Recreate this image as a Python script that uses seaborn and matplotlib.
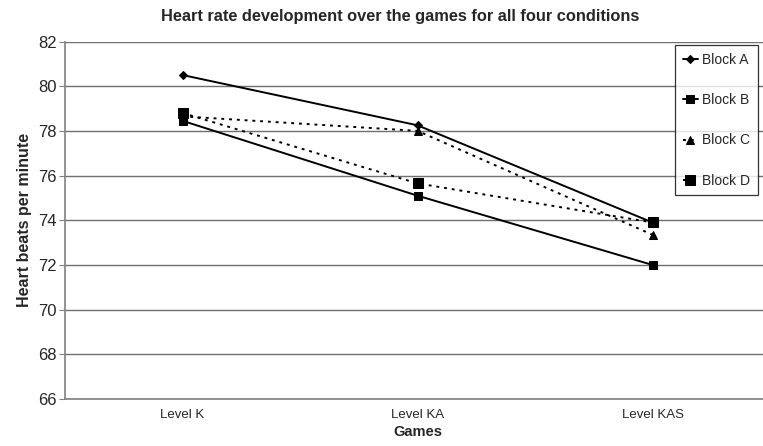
import pandas as pd
import matplotlib
matplotlib.use("Agg")
import matplotlib.pyplot as plt
import seaborn as sns

# values
games = ["Level K", "Level KA", "Level KAS"]
block_a = [80.5, 78.25, 73.9]
block_b = [78.45, 75.1, 72.0]
block_c = [78.65, 78.0, 73.35]
block_d = [78.8, 75.65, 73.9]
blocks = ["Block A", "Block B", "Block C", "Block D"]
y_ticks = list(range(66, 83, 2))

rows = []
for name, vals in zip(blocks, [block_a, block_b, block_c, block_d]):
    for g, v in zip(games, vals):
        rows.append({"Games": g, "bpm": v, "block": name})
df = pd.DataFrame(rows)

sns.set_style("white")
plt.rcParams["font.family"] = ["Liberation Sans", "DejaVu Sans"]

fig = plt.figure(figsize=(7.63, 4.46), dpi=100)
ax = fig.add_axes([65 / 763, 47 / 446, 705 / 763, 357.5 / 446])

markers = {"Block A": "D", "Block B": "s", "Block C": "^", "Block D": "s"}
dashes = {"Block A": "", "Block B": "", "Block C": (1.5, 2.5), "Block D": (1.5, 2.5)}
palette = {b: "black" for b in blocks}

sns.lineplot(data=df, x="Games", y="bpm", hue="block", style="block",
             markers=markers, dashes=dashes, palette=palette, sort=False,
             linewidth=1.4, markeredgecolor="black", ax=ax)

msizes = [4.5, 5.5, 5.5, 7.5]
for line, ms in zip(ax.lines[:4], msizes):
    line.set_markersize(ms)

ax.set_xlim(-0.5, 2.5)
ax.set_ylim(66, 82)
ax.set_yticks(y_ticks)
ax.yaxis.grid(True, color="#707070", linewidth=1.0)
ax.set_axisbelow(True)

ax.set_xticks([0, 1, 2])
ax.set_xticklabels(games, fontsize=9.5)
ax.tick_params(axis="x", length=0, pad=7)
ax.set_xticks([0.5, 1.5], minor=True)
ax.tick_params(axis="x", which="minor", direction="in", length=4, color="#808080")
ax.tick_params(axis="y", direction="out", length=4, color="#808080", labelsize=12, pad=2, left=True)

for side in ["left", "bottom"]:
    ax.spines[side].set_color("#808080")
    ax.spines[side].set_linewidth(1.2)
ax.spines["top"].set_visible(False)
ax.spines["right"].set_visible(False)

ax.set_xlabel("Games", fontsize=10.5, fontweight="bold", labelpad=3)
ax.set_ylabel("Heart beats per minute", fontsize=11.5, fontweight="bold", labelpad=4)
fig.text(400 / 763, 1 - 17 / 446, "Heart rate development over the games for all four conditions",
         ha="center", va="center", fontsize=11.8, fontweight="bold")

handles, labels = ax.get_legend_handles_labels()
for h, ms in zip(handles, msizes):
    h.set_markersize(ms)
leg = ax.legend(handles, labels, loc="upper left", bbox_to_anchor=(675 / 763, 1 - 45 / 446),
                bbox_transform=fig.transFigure, frameon=True, fancybox=False,
                edgecolor="black", fontsize=10, handlelength=1.1, labelspacing=1.9,
                borderpad=0.55, handletextpad=0.3, borderaxespad=0)
leg.get_frame().set_linewidth(0.9)

fig.savefig("out.png", dpi=100)
